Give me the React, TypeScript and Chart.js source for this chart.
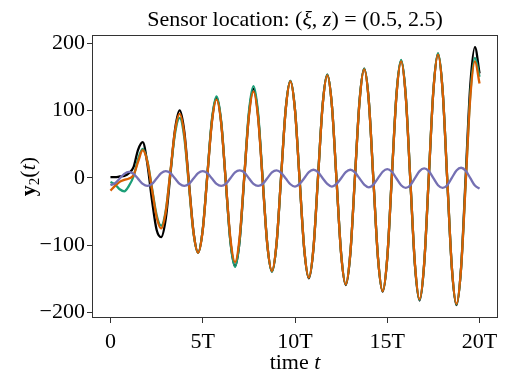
import { useEffect, useRef } from "react";
import { Chart, registerables } from "chart.js";

Chart.register(...registerables);

// time in units of T
const TIME = [
  0, 0.25, 0.5, 0.75, 1, 1.25, 1.5, 1.75, 2, 2.25, 2.5, 2.75, 3, 3.25, 3.5, 3.75,
  4, 4.25, 4.5, 4.75, 5, 5.25, 5.5, 5.75, 6, 6.25, 6.5, 6.75, 7, 7.25, 7.5, 7.75,
  8, 8.25, 8.5, 8.75, 9, 9.25, 9.5, 9.75, 10, 10.25, 10.5, 10.75, 11, 11.25, 11.5, 11.75,
  12, 12.25, 12.5, 12.75, 13, 13.25, 13.5, 13.75, 14, 14.25, 14.5, 14.75, 15, 15.25, 15.5, 15.75,
  16, 16.25, 16.5, 16.75, 17, 17.25, 17.5, 17.75, 18, 18.25, 18.5, 18.75, 19, 19.25, 19.5, 19.75,
  20,
];

const SERIES_BLACK = [
  1, 1, 2, 3, 7, 16, 42, 53,
  21, -33, -77, -88,
  -60, 6, 72, 100,
  69, -6, -80, -111,
  -77, 4, 85, 119,
  82, -6, -94, -131,
  -93, 0, 93, 132,
  92, -4, -99, -139,
  -98, 3, 103, 144,
  101, -3, -106, -149,
  -105, 2, 109, 153,
  107, -3, -113, -159,
  -112, 2, 115, 162,
  114, -4, -120, -169,
  -119, 3, 124, 174,
  122, -4, -130, -182,
  -128, 1, 130, 184,
  129, -3, -134, -189,
  -133, 3, 138, 194,
  155,
];

const SERIES_GREEN = [
  -6, -10, -17, -20, -12, 2, 28, 43,
  25, -15, -55, -71,
  -48, 9, 66, 89,
  60, -11, -82, -111,
  -77, 5, 87, 121,
  84, -6, -95, -132,
  -93, 2, 97, 136,
  96, -2, -99, -139,
  -98, 3, 103, 144,
  101, -2, -105, -148,
  -104, 3, 109, 153,
  107, -3, -112, -158,
  -111, 2, 115, 162,
  114, -3, -120, -168,
  -118, 4, 125, 175,
  123, -3, -129, -181,
  -127, 2, 131, 185,
  130, -2, -133, -188,
  -134, -5, 124, 178,
  150,
];

const SERIES_ORANGE = [
  -19, -12, -6, -3, -1, 4, 24, 41,
  24, -17, -58, -75,
  -50, 10, 70, 95,
  65, -8, -81, -111,
  -78, 3, 83, 116,
  81, -5, -90, -125,
  -88, 2, 91, 128,
  89, -5, -99, -138,
  -97, 3, 102, 143,
  100, -3, -105, -148,
  -104, 2, 108, 152,
  107, -3, -113, -158,
  -111, 2, 114, 161,
  113, -4, -120, -168,
  -118, 3, 123, 173,
  121, -4, -128, -180,
  -127, 2, 130, 183,
  129, -2, -133, -187,
  -134, -7, 120, 173,
  140,
];

const SERIES_PURPLE = [
  -11, -8, -1, 6,
  9, 6, -1.5, -9,
  -12, -9, -1, 7,
  10, 7, -1, -9,
  -12, -9, -1, 7,
  10, 7, -1, -9,
  -12, -9, -0.5, 8,
  11, 8, -0.5, -9,
  -12, -9, -0.5, 8,
  11, 7.5, -1, -9.5,
  -13, -9, -0.5, 8.5,
  12, 8.5, -0.5, -9,
  -13, -9, -0.5, 8.5,
  12, 8, -1, -10,
  -14, -10, -0.5, 9,
  13, 9, -1, -11,
  -15, -11, -0.5, 10,
  14, 10, -0.5, -11,
  -15, -11, 0, 11,
  15, 10.5, -0.5, -11.5,
  -16,
];

const X_TICKS = [0, 5, 10, 15, 20];
const X_TICK_LABELS = ["0", "5T", "10T", "15T", "20T"];
const Y_TICKS = [-200, -100, 0, 100, 200];

const FONT = "'Liberation Serif', 'DejaVu Serif', serif";

type Part = { text: string; font: string; dy?: number };

function drawRich(ctx: CanvasRenderingContext2D, parts: Part[], x: number, y: number) {
  let total = 0;
  for (const p of parts) {
    ctx.font = p.font;
    total += ctx.measureText(p.text).width;
  }
  let cx = x - total / 2;
  ctx.textAlign = "left";
  ctx.textBaseline = "alphabetic";
  for (const p of parts) {
    ctx.font = p.font;
    ctx.fillText(p.text, cx, y + (p.dy || 0));
    cx += ctx.measureText(p.text).width;
  }
}

export default function App() {
  const ref = useRef<HTMLCanvasElement>(null);

  useEffect(() => {
    document.body.style.margin = "0";
    const canvas = ref.current;
    if (!canvas) return;

    const mk = (ys: number[], color: string, order: number) => ({
      data: TIME.map((t, i) => ({ x: t, y: ys[i] })),
      borderColor: color,
      backgroundColor: color,
      borderWidth: 2.3,
      pointRadius: 0,
      cubicInterpolationMode: "monotone" as const,
      fill: false,
      order,
    });

    const N = `22px ${FONT}`;
    const I = `italic 22px ${FONT}`;

    const decor = {
      id: "decor",
      afterDraw(chart: any) {
        const { ctx, chartArea: a } = chart;
        ctx.save();
        ctx.strokeStyle = "#333";
        ctx.lineWidth = 1;
        ctx.strokeRect(a.left + 0.5, a.top + 0.5, a.right - a.left - 1, a.bottom - a.top - 1);
        ctx.fillStyle = "#000";
        const cx = (a.left + a.right) / 2;
        // title
        drawRich(
          ctx,
          [
            { text: "Sensor location: (", font: N },
            { text: "ξ", font: I },
            { text: ", ", font: N },
            { text: "z", font: I },
            { text: ") = (0.5, 2.5)", font: N },
          ],
          cx,
          a.top - 9
        );
        // x label
        drawRich(
          ctx,
          [
            { text: "time ", font: `22px ${FONT}` },
            { text: "t", font: `italic 22px ${FONT}` },
          ],
          cx,
          369
        );
        // y label
        ctx.save();
        ctx.translate(35, (a.top + a.bottom) / 2);
        ctx.rotate(-Math.PI / 2);
        drawRich(
          ctx,
          [
            { text: "y", font: `bold 22px ${FONT}` },
            { text: "2", font: `15px ${FONT}`, dy: 4 },
            { text: "(", font: `22px ${FONT}` },
            { text: "t", font: `italic 22px ${FONT}` },
            { text: ")", font: `22px ${FONT}` },
          ],
          0,
          0
        );
        ctx.restore();
        ctx.restore();
      },
    };

    const chart = new Chart(canvas, {
      type: "line",
      data: {
        datasets: [
          mk(SERIES_BLACK, "#000000", 3),
          mk(SERIES_GREEN, "#1b9e77", 2),
          mk(SERIES_ORANGE, "#d95f02", 1),
          mk(SERIES_PURPLE, "#7570b3", 0),
        ],
      },
      options: {
        animation: false,
        responsive: false,
        maintainAspectRatio: false,
        layout: { padding: { top: 35, right: 11, left: 0, bottom: 0 } },
        plugins: {
          legend: { display: false },
          tooltip: { enabled: false },
          title: { display: false },
        },
        scales: {
          x: {
            type: "linear",
            min: -1,
            max: 21,
            border: { display: false },
            grid: {
              display: true,
              drawOnChartArea: false,
              drawTicks: true,
              tickLength: 5,
              color: "#333",
              tickColor: "#333",
            },
            afterBuildTicks: (s: any) => {
              s.ticks = X_TICKS.map((v) => ({ value: v }));
            },
            afterFit: (s: any) => {
              s.height = 67;
            },
            ticks: {
              color: "#000",
              padding: 6,
              maxRotation: 0,
              font: { family: FONT, size: 22 },
              callback: (v: any) => {
                const idx = X_TICKS.indexOf(Number(v));
                return idx >= 0 ? X_TICK_LABELS[idx] : "";
              },
            },
          },
          y: {
            type: "linear",
            min: -208,
            max: 212,
            border: { display: false },
            grid: {
              display: true,
              drawOnChartArea: false,
              drawTicks: true,
              tickLength: 5,
              color: "#333",
              tickColor: "#333",
            },
            afterBuildTicks: (s: any) => {
              s.ticks = Y_TICKS.map((v) => ({ value: v }));
            },
            afterFit: (s: any) => {
              s.width = 92;
            },
            ticks: {
              color: "#000",
              padding: 2,
              font: { family: FONT, size: 22 },
              callback: (v: any) => {
                const n = Number(v);
                return n < 0 ? "\u2212" + Math.abs(n) : String(n);
              },
            },
          },
        },
      },
      plugins: [decor],
    });

    return () => chart.destroy();
  }, []);

  return (
    <div style={{ width: 509, height: 385 }}>
      <canvas ref={ref} width={509} height={385} style={{ display: "block" }} />
    </div>
  );
}
